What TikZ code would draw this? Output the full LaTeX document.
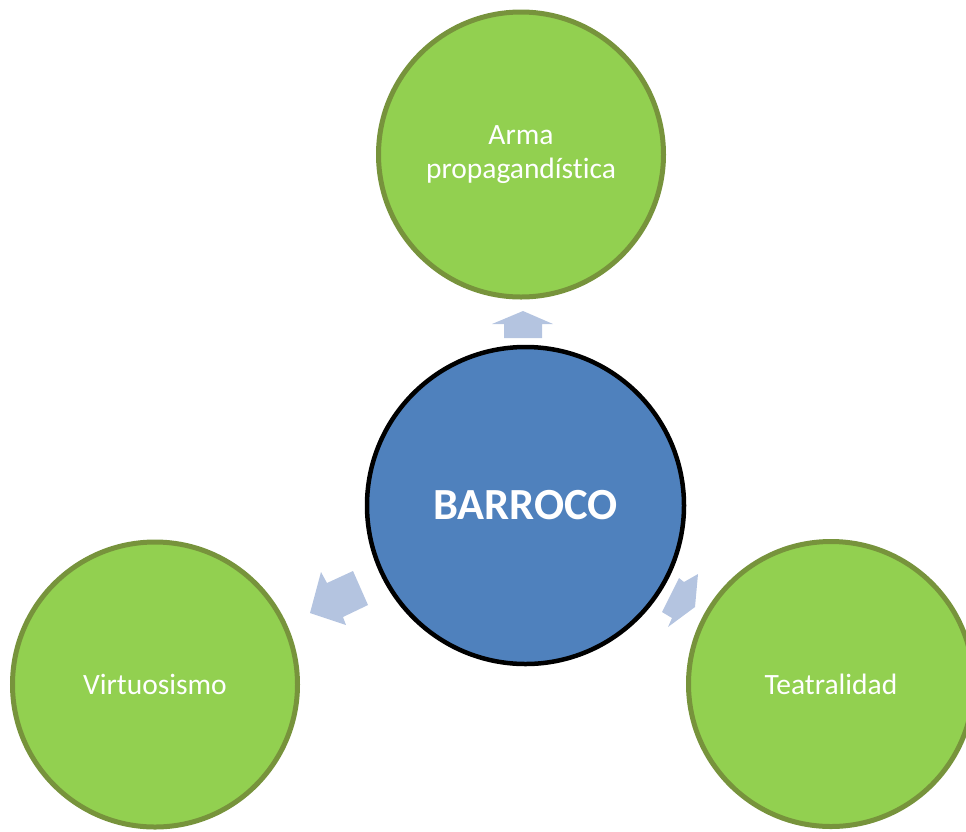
\documentclass[tikz,border=0pt]{standalone}
\usepackage{fontspec}
\setmainfont[Ligatures=NoCommon]{Carlito}
\definecolor{leaf}{HTML}{92D050}
\definecolor{leafline}{HTML}{77933C}
\definecolor{core}{HTML}{4F81BD}
\definecolor{flow}{HTML}{B4C4E0}
\tikzset{
  topic/.style={circle, fill=leaf, draw=leafline, line width=5pt,
    minimum size=285pt, inner sep=0pt, text=white, align=center,
    font=\fontsize{29.5}{34}\selectfont},
  hub/.style={circle, fill=core, draw=black, line width=4.5pt,
    minimum size=317pt, inner sep=0pt, text=white,
    font=\fontsize{44.5}{50}\selectfont\bfseries},
  flowarrow/.style={fill=flow, draw=none}
}
\begin{document}
\begin{tikzpicture}[x=1pt, y=-1pt]
  \useasboundingbox (0,0) rectangle (966,831);
  \clip (0,0) rectangle (966,831);
  % central concept
  \node[hub] (barroco) at (525.5,505.5) {BARROCO};
  % surrounding features
  \node[topic] (arma) at (521,154.5) {Arma\\propagandística};
  \node[topic] (virt) at (155,684.5) {Virtuosismo};
  \node[topic] (teat) at (831,684) {Teatralidad};
  % block arrows from the centre outwards
  \fill[flowarrow] (523,311) -- (553,324) -- (542,324) -- (542,338)
    -- (504,338) -- (504,324) -- (492,324) -- cycle;
  \fill[flowarrow] (310,613) -- (321,572) -- (327,583) -- (353,571)
    -- (368,605) -- (343,617) -- (346,625) -- cycle;
  \fill[flowarrow] (679,578) -- (684,582) -- (698,574) -- (695,607)
    -- (668,627) -- (672,618) -- (662,612) -- cycle;
\end{tikzpicture}
\end{document}
